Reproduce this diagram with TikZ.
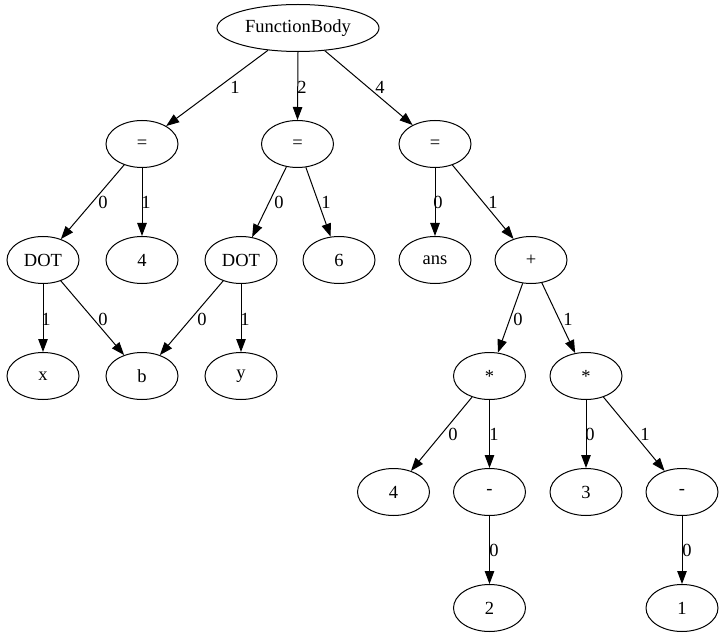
\documentclass[tikz,border=0pt]{standalone}
\usepackage{fontspec}
\setmainfont{Liberation Serif}
\usetikzlibrary{arrows.meta,shapes.geometric}
\tikzset{
  nd/.style={draw, ellipse, line width=1pt, minimum width=72pt, minimum height=47pt, inner sep=0pt, font=\fontsize{18.5}{22}\selectfont},
  ed/.style={line width=1pt, -{Triangle[length=13pt,width=9.5pt]}},
  lbl/.style={inner sep=0pt, font=\fontsize{18.5}{22}\selectfont}
}
\begin{document}
\begin{tikzpicture}[x=1pt,y=-1pt]
\useasboundingbox (0,0) rectangle (723,639);
% nodes
\node[nd, minimum width=162pt] (fb) at (298,28) {FunctionBody};
\node[nd] (eqA) at (142,144) {=};
\node[nd] (eqB) at (297.5,144) {=};
\node[nd] (eqC) at (435,144) {=};
\node[nd] (dotA) at (43,260) {DOT};
\node[nd] (fourA) at (142,260) {4};
\node[nd] (dotB) at (241,260) {DOT};
\node[nd] (six) at (339,260) {6};
\node[nd] (ans) at (435,260) {ans};
\node[nd] (plus) at (531,260) {+};
\node[nd] (xx) at (43,376) {x};
\node[nd] (bb) at (142,376) {b};
\node[nd] (yy) at (241,376) {y};
\node[nd] (starA) at (489.5,376) {*};
\node[nd] (starB) at (586,376) {*};
\node[nd] (fourB) at (393.5,492) {4};
\node[nd] (minA) at (489.5,492) {-};
\node[nd] (three) at (586,492) {3};
\node[nd] (minB) at (682,492) {-};
\node[nd] (two) at (489.5,608) {2};
\node[nd] (one) at (682,608) {1};
% edges
\draw[ed] (fb) -- (eqA);
\draw[ed] (fb.south) -- (eqB.north);
\draw[ed] (fb) -- (eqC);
\draw[ed] (eqA) -- (dotA);
\draw[ed] (eqA) -- (fourA);
\draw[ed] (eqB) -- (dotB);
\draw[ed] (eqB) -- (six);
\draw[ed] (eqC) -- (ans);
\draw[ed] (eqC) -- (plus);
\draw[ed] (dotA) -- (xx);
\draw[ed] (dotA) -- (bb);
\draw[ed] (dotB) -- (bb);
\draw[ed] (dotB) -- (yy);
\draw[ed] (plus) -- (starA);
\draw[ed] (plus) -- (starB);
\draw[ed] (starA) -- (fourB);
\draw[ed] (starA) -- (minA);
\draw[ed] (starB) -- (three);
\draw[ed] (starB) -- (minB);
\draw[ed] (minA) -- (two);
\draw[ed] (minB) -- (one);
% edge labels
\node[lbl] (l1) at (235,87) {1};
\node[lbl] (l2) at (302,87) {2};
\node[lbl] (l3) at (380,87) {4};
\node[lbl] (l4) at (103,202) {0};
\node[lbl] (l5) at (146,202) {1};
\node[lbl] (l6) at (279,202) {0};
\node[lbl] (l7) at (326,202) {1};
\node[lbl] (l8) at (438,202) {0};
\node[lbl] (l9) at (493,202) {1};
\node[lbl] (l10) at (46,319) {1};
\node[lbl] (l11) at (103,319) {0};
\node[lbl] (l12) at (202,319) {0};
\node[lbl] (l13) at (245,319) {1};
\node[lbl] (l14) at (518,319) {0};
\node[lbl] (l15) at (568,319) {1};
\node[lbl] (l16) at (453,434) {0};
\node[lbl] (l17) at (494,434) {1};
\node[lbl] (l18) at (590,434) {0};
\node[lbl] (l19) at (645,434) {1};
\node[lbl] (l20) at (494,550) {0};
\node[lbl] (l21) at (687,550) {0};
\end{tikzpicture}
\end{document}
